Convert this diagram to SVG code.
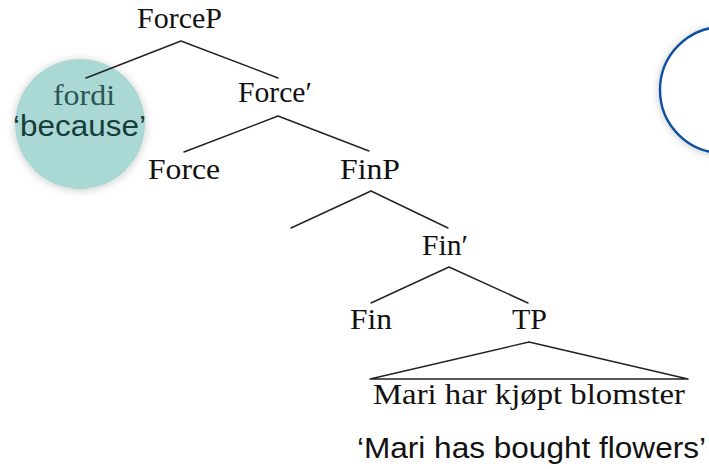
<svg xmlns="http://www.w3.org/2000/svg" width="709" height="469" viewBox="0 0 709 469">
  <defs>
    <filter id="soft" x="-30%" y="-30%" width="160%" height="160%">
      <feDropShadow dx="0" dy="1" stdDeviation="4" flood-color="#000" flood-opacity="0.22"/>
    </filter>
    <style>
      .lbl { font-family: "Liberation Serif", "DejaVu Serif", serif; font-size: 29px; fill: #111; }
      .gloss { font-family: "Liberation Sans", Arial, sans-serif; font-size: 30px; fill: #111; }
      .edge { stroke: #222; stroke-width: 1.4; fill: none; stroke-linecap: round; stroke-linejoin: round; }
    </style>
  </defs>
  <rect width="709" height="469" fill="#fff"/>

  <!-- highlight bubbles -->
  <circle id="bubble-right" cx="723" cy="90" r="63" fill="#fff" stroke="#0d4fa0" stroke-width="2.4" filter="url(#soft)"/>
  <circle id="bubble-fordi" cx="80" cy="124" r="65" fill="#aad8d4" filter="url(#soft)"/>

  <!-- connectors -->
  <g id="edges" class="edge">
    <path d="M181,41 L86,78 M181,41 L278,78"/>
    <path d="M278,116 L184,152 M278,116 L369,151"/>
    <path d="M371,191 L291,228 M371,191 L448,228"/>
    <path d="M449,267 L371,303 M449,267 L528,303"/>
    <path d="M370,379 L529,342 L688,379 Z"/>
  </g>

  <g id="fordi">
    <text class="lbl" x="53" y="105" textLength="62" lengthAdjust="spacingAndGlyphs" style="fill:#2a5654">fordi</text>
    <text class="gloss" x="13" y="136" textLength="133" lengthAdjust="spacingAndGlyphs" style="fill:#163d3a">‘because’</text>
  </g>

  <g id="ForceP"><text class="lbl" x="137" y="28" textLength="85" lengthAdjust="spacingAndGlyphs">ForceP</text></g>
  <g id="ForceBar"><text class="lbl" x="238" y="102" textLength="74" lengthAdjust="spacingAndGlyphs">Force′</text></g>
  <g id="Force"><text class="lbl" x="148" y="179" textLength="72" lengthAdjust="spacingAndGlyphs">Force</text></g>
  <g id="FinP"><text class="lbl" x="340" y="179" textLength="60" lengthAdjust="spacingAndGlyphs">FinP</text></g>
  <g id="FinBar"><text class="lbl" x="422" y="255" textLength="46" lengthAdjust="spacingAndGlyphs">Fin′</text></g>
  <g id="Fin"><text class="lbl" x="350" y="329" textLength="42" lengthAdjust="spacingAndGlyphs">Fin</text></g>
  <g id="TP"><text class="lbl" x="512" y="329" textLength="35" lengthAdjust="spacingAndGlyphs">TP</text></g>
  <g id="TP-content"><text class="lbl" x="373" y="404" textLength="312" lengthAdjust="spacingAndGlyphs">Mari har kjøpt blomster</text></g>
  <g id="translation"><text class="gloss" x="357" y="458" textLength="349" lengthAdjust="spacingAndGlyphs">‘Mari has bought flowers’</text></g>
</svg>
